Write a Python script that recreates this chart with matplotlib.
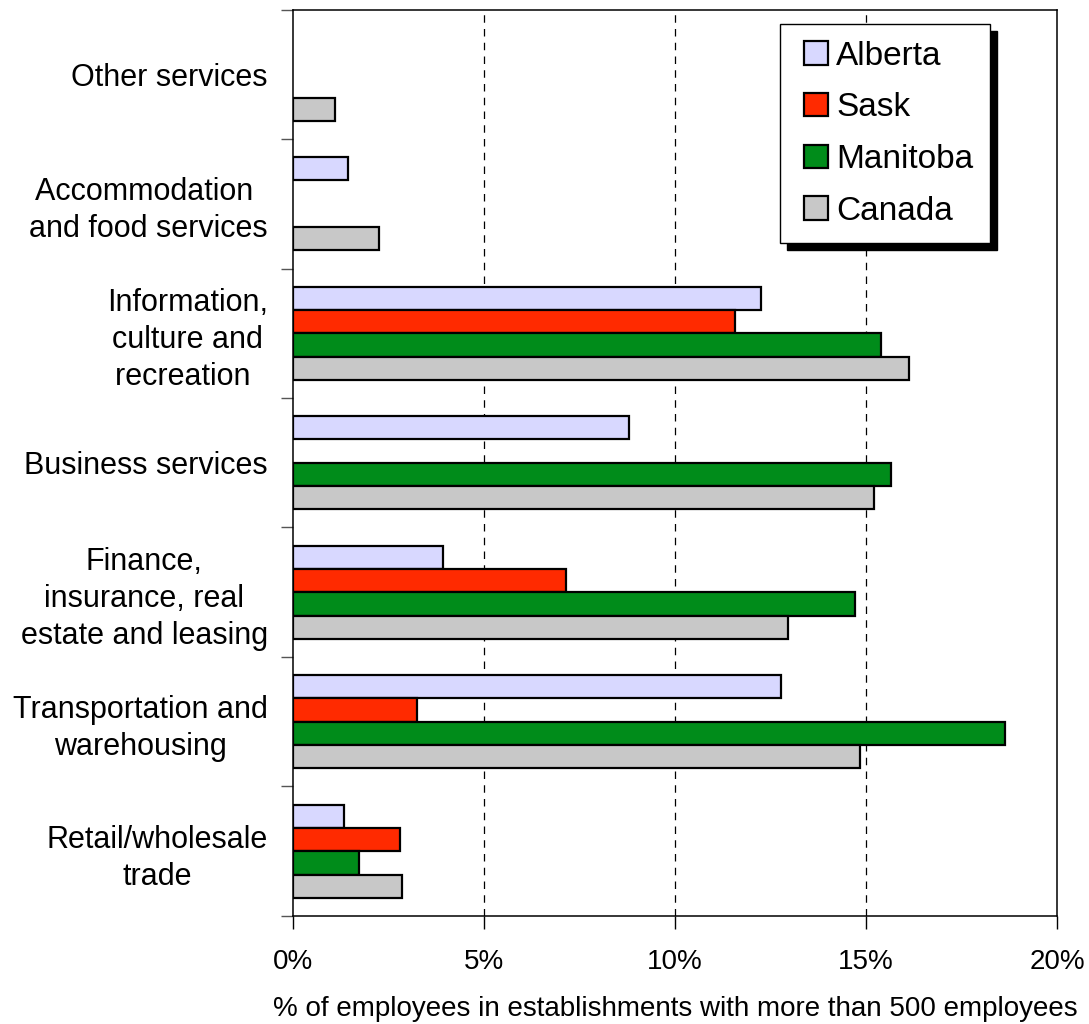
import numpy as np
import matplotlib
matplotlib.use("Agg")
import matplotlib.pyplot as plt
from matplotlib.container import BarContainer
from matplotlib.legend_handler import HandlerPatch, update_from_first_child
from matplotlib.ticker import FixedLocator, FuncFormatter

plt.rcParams['font.family'] = ['Liberation Sans', 'DejaVu Sans']

# industries, bottom to top
categories = [
    "Retail/wholesale\ntrade",
    "Transportation and\nwarehousing",
    "Finance,\ninsurance, real\nestate and leasing",
    "Business services",
    "Information,\nculture and\nrecreation ",
    "Accommodation \nand food services",
    "Other services",
]
nan = np.nan
alberta = [1.34, 12.77, 3.94, 8.80, 12.24, 1.45, nan]
sask = [2.80, 3.24, 7.14, nan, 11.57, nan, nan]
manitoba = [1.74, 18.65, 14.70, 15.65, 15.39, nan, nan]
canada = [2.85, 14.84, 12.97, 15.21, 16.13, 2.26, 1.10]

series = [("Alberta", alberta, "#d8d8ff"),
          ("Sask", sask, "#ff2a00"),
          ("Manitoba", manitoba, "#008c1a"),
          ("Canada", canada, "#c8c8c8")]


def main():
    fig = plt.figure(figsize=(10.89, 10.24), dpi=100)
    ax = fig.add_axes([0.269, 0.1055, 0.7016, 0.8852])

    y = np.arange(len(categories))
    h = 0.18
    offsets = [1.5 * h, 0.5 * h, -0.5 * h, -1.5 * h]
    for (name, vals, col), off in zip(series, offsets):
        ax.barh(y + off, vals, height=h, color=col, edgecolor="black",
                linewidth=1.6, label=name, zorder=3)

    ax.set_xlim(0, 20)
    ax.set_ylim(-0.5, len(categories) - 0.5)

    ax.set_xticks([0, 5, 10, 15, 20])
    ax.xaxis.set_major_formatter(FuncFormatter(lambda v, p: f"{v:.0f}%"))
    ax.tick_params(axis="x", labelsize=20, length=9, width=1, pad=15, direction="out")
    for xv in [5, 10, 15]:
        ax.axvline(xv, color="black", linewidth=0.9, linestyle=(0, (6, 5)), zorder=1)

    # category names sit between the boundary tick marks
    ax.set_yticks(y)
    ax.set_yticklabels(categories)
    ax.yaxis.set_minor_locator(FixedLocator(np.arange(-0.5, len(categories), 1.0)))
    ax.tick_params(axis="y", which="major", length=0, labelsize=22, pad=18)
    ax.tick_params(axis="y", which="minor", length=9, width=1, color="#555555")
    for t in ax.get_yticklabels():
        t.set_multialignment("center")
        t.set_linespacing(1.3)

    for s in ax.spines.values():
        s.set_linewidth(1.1)

    ax.set_xlabel("% of employees in establishments with more than 500 employees",
                  fontsize=20, labelpad=15)

    # square swatches pushed in a little from the frame edge
    square = HandlerPatch(xpad=0.24, update_func=update_from_first_child)
    leg = ax.legend(loc="upper left", bbox_to_anchor=(0.637, 0.984), borderaxespad=0,
                    fontsize=24, fancybox=False, edgecolor="black", framealpha=1,
                    handlelength=0.94, handleheight=0.7, handletextpad=0.25,
                    labelspacing=0.62, borderpad=0.5,
                    handler_map={BarContainer: square},
                    shadow={"ox": 5, "oy": -5, "color": "black", "alpha": 1})
    leg.get_frame().set_linewidth(1)
    for p in leg.get_patches():
        p.set_linewidth(1.6)

    fig.savefig("out.png", dpi=100)


if __name__ == "__main__":
    main()
